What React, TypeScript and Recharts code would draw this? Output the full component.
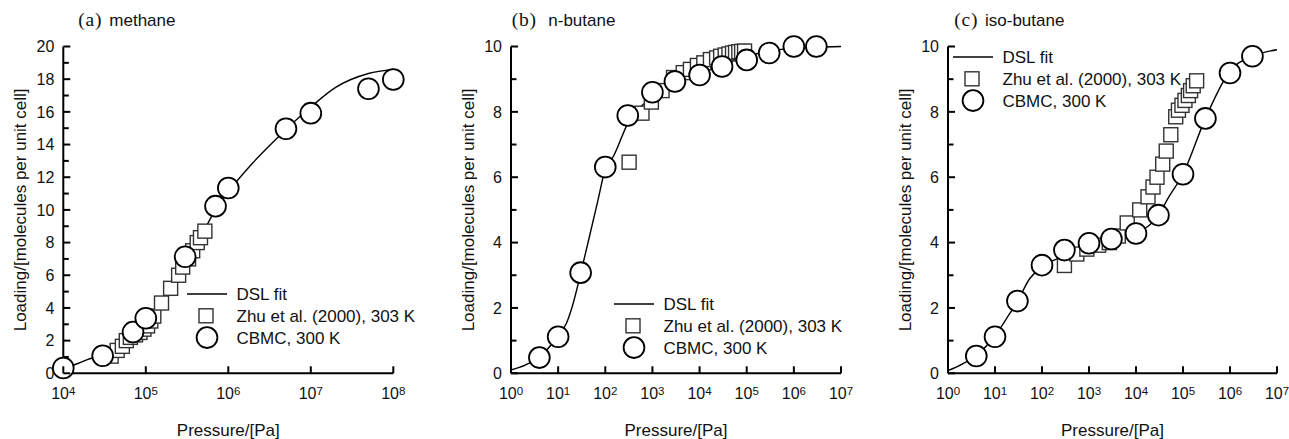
import {
  ComposedChart,
  Line,
  Scatter,
  XAxis,
  YAxis,
  Legend,
  Customized,
} from "recharts";

// (a) methane — pressure [Pa] / loading [molecules per unit cell]
const METHANE_FIT_P = [1e4, 1.5e4, 2e4, 3e4, 5e4, 7e4, 1e5, 1.5e5, 2e5, 3e5, 5e5, 7e5, 1e6, 2e6, 4e6, 1e7, 2e7, 5e7, 1e8];
const METHANE_FIT_Q = [0.3, 0.6, 0.85, 1.15, 1.8, 2.4, 3.2, 4.4, 5.3, 6.9, 8.7, 10.0, 11.1, 12.9, 14.45, 16.3, 17.5, 18.35, 18.6];
const METHANE_ZHU_P = [3.8e4, 4.5e4, 5.2e4, 5.8e4, 6.5e4, 7.5e4, 8.5e4, 9.5e4, 1.05e5, 1.15e5, 1.25e5, 1.55e5, 2.0e5, 2.5e5, 2.8e5, 3.3e5, 3.7e5, 4.2e5, 4.6e5, 5.2e5];
const METHANE_ZHU_Q = [1.05, 1.4, 1.65, 2.0, 2.2, 2.35, 2.5, 2.7, 2.9, 3.2, 3.5, 4.3, 5.2, 6.0, 6.5, 7.0, 7.5, 8.0, 8.3, 8.7];
const METHANE_CBMC_P = [1e4, 3e4, 7e4, 1e5, 3e5, 7e5, 1e6, 5e6, 1e7, 5e7, 1e8];
const METHANE_CBMC_Q = [0.32, 1.07, 2.52, 3.37, 7.13, 10.23, 11.34, 14.97, 15.92, 17.41, 17.98];

// (b) n-butane
const NBUTANE_FIT_P = [1, 2, 4, 10, 15, 20, 30, 50, 70, 100, 150, 300, 1e3, 3e3, 1e4, 3e4, 1e5, 3e5, 1e6, 1e7];
const NBUTANE_FIT_Q = [0.1, 0.25, 0.5, 1.15, 1.53, 2.05, 3.05, 4.4, 5.3, 6.25, 6.65, 7.65, 8.45, 8.9, 9.2, 9.45, 9.7, 9.86, 9.95, 10.0];
const NBUTANE_ZHU_P = [320, 600, 950, 1.6e3, 2.8e3, 4.5e3, 6.4e3, 9e3, 1.23e4, 1.7e4, 2.3e4, 2.8e4, 3.5e4, 4.2e4, 5e4, 5.8e4, 6.8e4, 7.8e4, 9e4];
const NBUTANE_ZHU_Q = [6.46, 7.96, 8.3, 8.65, 9.05, 9.2, 9.3, 9.42, 9.5, 9.6, 9.65, 9.7, 9.74, 9.77, 9.8, 9.82, 9.84, 9.85, 9.86];
const NBUTANE_CBMC_P = [4, 10, 30, 100, 300, 1e3, 3e3, 1e4, 3e4, 1e5, 3e5, 1e6, 3e6];
const NBUTANE_CBMC_Q = [0.48, 1.12, 3.08, 6.31, 7.89, 8.6, 8.93, 9.13, 9.39, 9.59, 9.8, 10.0, 10.0];

// (c) iso-butane
const ISOBUTANE_FIT_P = [1, 2, 4, 10, 20, 30, 55, 100, 300, 1e3, 3e3, 1e4, 2e4, 3e4, 5e4, 1e5, 3e5, 1e6, 3e6, 1e7];
const ISOBUTANE_FIT_Q = [0.08, 0.28, 0.55, 1.15, 1.8, 2.2, 2.9, 3.25, 3.6, 3.88, 4.08, 4.3, 4.55, 4.85, 5.4, 6.1, 7.8, 9.25, 9.7, 9.9];
const ISOBUTANE_ZHU_P = [300, 550, 900, 1.6e3, 2.7e3, 4.2e3, 6.5e3, 1.2e4, 1.8e4, 2.3e4, 2.8e4, 3.7e4, 4.4e4, 5.5e4, 7e4, 8e4, 9.5e4, 1.1e5, 1.3e5, 1.45e5, 1.65e5, 1.95e5];
const ISOBUTANE_ZHU_Q = [3.3, 3.65, 3.8, 3.92, 4.0, 4.2, 4.6, 5.0, 5.4, 5.7, 6.0, 6.4, 6.8, 7.3, 7.85, 8.05, 8.2, 8.35, 8.5, 8.65, 8.8, 8.95];
const ISOBUTANE_CBMC_P = [4, 10, 30, 100, 300, 1e3, 3e3, 1e4, 3e4, 1e5, 3e5, 1e6, 3e6];
const ISOBUTANE_CBMC_Q = [0.53, 1.12, 2.21, 3.31, 3.77, 3.98, 4.11, 4.28, 4.84, 6.09, 7.8, 9.19, 9.7];

// axis ticks
const METHANE_X_TICKS = [1e4, 1e5, 1e6, 1e7, 1e8];
const BUTANE_X_TICKS = [1, 10, 100, 1e3, 1e4, 1e5, 1e6, 1e7];
const METHANE_Y_TICKS = [0, 1, 2, 3, 4, 5, 6, 7, 8, 9, 10, 11, 12, 13, 14, 15, 16, 17, 18, 19, 20];
const BUTANE_Y_TICKS = [0, 1, 2, 3, 4, 5, 6, 7, 8, 9, 10];

const SERIES_NAMES = ["DSL fit", "Zhu et al. (2000), 303 K", "CBMC, 300 K"];
const MARK_ORDER = ["line", "square", "circle"];

const SANS = "'Liberation Sans', Arial, Helvetica, sans-serif";
const SERIF = "'Liberation Serif', 'Times New Roman', serif";
const INK = "#111";

type Pt = { P: number; L: number };
const zip = (ps: number[], qs: number[]): Pt[] => ps.map((P, i) => ({ P, L: qs[i] }));

const XTick = ({ x, y, payload }: any) => {
  const exp = Math.round(Math.log10(payload.value));
  return (
    <g>
      <line x1={x} x2={x} y1={y} y2={y - 7} stroke="#000" strokeWidth={2} />
      <text x={x} y={y + 26} textAnchor="middle" fontSize={16} fill={INK}>
        10
        <tspan dy={-4.5} fontSize={11.5}>
          {exp}
        </tspan>
      </text>
    </g>
  );
};

const YTick = ({ x, y, payload }: any) => {
  const major = payload.value % 2 === 0;
  return (
    <g>
      <line x1={x} x2={x + (major ? 7 : 5.5)} y1={y} y2={y} stroke="#000" strokeWidth={2} />
      {major && (
        <text x={x - 9} y={y} dy="0.36em" textAnchor="end" fontSize={16} fill={INK}>
          {payload.value}
        </text>
      )}
    </g>
  );
};

const XTitle = ({ viewBox }: any) => {
  if (!viewBox) return null;
  return (
    <text x={viewBox.x + viewBox.width / 2} y={viewBox.y + 62.7} textAnchor="middle" fontSize={17} fill={INK}>
      Pressure/[Pa]
    </text>
  );
};

const YTitle = ({ viewBox }: any) => {
  if (!viewBox) return null;
  const cx = viewBox.x + viewBox.width - 37;
  const cy = viewBox.y + viewBox.height / 2;
  return (
    <text x={cx} y={cy} transform={`rotate(-90 ${cx} ${cy})`} textAnchor="middle" fontSize={17} fill={INK}>
      Loading/[molecules per unit cell]
    </text>
  );
};

const SquareDot = ({ cx, cy }: any) => (
  <rect x={cx - 7} y={cy - 7} width={14} height={14} fill="#fff" stroke="#333" strokeWidth={1.4} />
);

const CircleDot = ({ cx, cy }: any) => (
  <circle cx={cx} cy={cy} r={10.4} fill="#fff" stroke="#000" strokeWidth={1.8} />
);

const LegendBox = ({ payload }: any) => {
  const items = [...(payload || [])].sort(
    (a: any, b: any) => MARK_ORDER.indexOf(a.type) - MARK_ORDER.indexOf(b.type)
  );
  return (
    <svg width={240} height={70} style={{ overflow: "visible", display: "block" }}>
      {items.map((it: any, i: number) => {
        const cy = 11 + i * 21.8;
        return (
          <g key={it.value}>
            {it.type === "line" && <line x1={0} x2={40} y1={cy} y2={cy} stroke="#000" strokeWidth={1.4} />}
            {it.type === "square" && <SquareDot cx={19} cy={cy} />}
            {it.type === "circle" && <CircleDot cx={20} cy={cy} />}
            <text x={49.5} y={cy} dy="0.36em" fontSize={17} fill={INK} fontFamily={SANS}>
              {it.value}
            </text>
          </g>
        );
      })}
    </svg>
  );
};

interface PanelProps {
  left: number;
  width: number;
  yAxisWidth: number;
  rightMargin: number;
  xDomain: [number, number];
  xTicks: number[];
  yTicks: number[];
  fit: Pt[];
  zhu: Pt[];
  cbmc: Pt[];
  tag: string;
  tagX: number;
  name: string;
  nameX: number;
  legendLeft: number;
  legendTop: number;
}

const Panel = (p: PanelProps) => (
  <div style={{ position: "absolute", left: p.left, top: 0 }}>
    <ComposedChart
      width={p.width}
      height={439}
      margin={{ top: 46.5, right: p.rightMargin, bottom: 0, left: 0 }}
    >
      <XAxis
        dataKey="P"
        type="number"
        scale="log"
        domain={p.xDomain}
        ticks={p.xTicks}
        interval={0}
        height={65.7}
        tickSize={0}
        tickMargin={0}
        tickLine={false}
        axisLine={{ stroke: "#000", strokeWidth: 2 }}
        tick={<XTick />}
        label={<XTitle />}
      />
      <YAxis
        dataKey="L"
        type="number"
        domain={[p.yTicks[0], p.yTicks[p.yTicks.length - 1]]}
        ticks={p.yTicks}
        interval={0}
        width={p.yAxisWidth}
        tickSize={0}
        tickMargin={0}
        tickLine={false}
        axisLine={{ stroke: "#000", strokeWidth: 2 }}
        tick={<YTick />}
        label={<YTitle />}
      />
      <Legend
        layout="vertical"
        align="center"
        verticalAlign="middle"
        content={<LegendBox />}
        wrapperStyle={{ left: p.legendLeft, top: p.legendTop, width: 240, height: 70 }}
      />
      <Line
        data={p.fit}
        dataKey="L"
        name={SERIES_NAMES[0]}
        type="monotone"
        stroke="#000"
        strokeWidth={1.4}
        dot={false}
        activeDot={false}
        legendType="line"
        isAnimationActive={false}
      />
      <Scatter
        data={p.zhu}
        dataKey="L"
        name={SERIES_NAMES[1]}
        shape={<SquareDot />}
        legendType="square"
        isAnimationActive={false}
      />
      <Scatter
        data={p.cbmc}
        dataKey="L"
        name={SERIES_NAMES[2]}
        shape={<CircleDot />}
        legendType="circle"
        isAnimationActive={false}
      />
      <Customized
        component={() => (
          <g>
            <text x={p.tagX} y={26} fontFamily={SERIF} fontSize={19.5} letterSpacing={0.8} fill={INK}>
              {p.tag}
            </text>
            <text x={p.nameX} y={26} fontSize={17} fill={INK}>
              {p.name}
            </text>
          </g>
        )}
      />
    </ComposedChart>
  </div>
);

export default function App() {
  return (
    <div
      style={{
        position: "relative",
        width: 1289,
        height: 439,
        background: "#fff",
        fontFamily: SANS,
        overflow: "hidden",
      }}
    >
      <style>{"body{margin:0}"}</style>
      <Panel
        left={0}
        width={430}
        yAxisWidth={63.3}
        rightMargin={36.7}
        xDomain={[1e4, 1e8]}
        xTicks={METHANE_X_TICKS}
        yTicks={METHANE_Y_TICKS}
        fit={zip(METHANE_FIT_P, METHANE_FIT_Q)}
        zhu={zip(METHANE_ZHU_P, METHANE_ZHU_Q)}
        cbmc={zip(METHANE_CBMC_P, METHANE_CBMC_Q)}
        tag="(a)"
        tagX={78.3}
        name="methane"
        nameX={109.3}
        legendLeft={186.7}
        legendTop={282.5}
      />
      <Panel
        left={430}
        width={430}
        yAxisWidth={81}
        rightMargin={19}
        xDomain={[1, 1e7]}
        xTicks={BUTANE_X_TICKS}
        yTicks={BUTANE_Y_TICKS}
        fit={zip(NBUTANE_FIT_P, NBUTANE_FIT_Q)}
        zhu={zip(NBUTANE_ZHU_P, NBUTANE_ZHU_Q)}
        cbmc={zip(NBUTANE_CBMC_P, NBUTANE_CBMC_Q)}
        tag="(b)"
        tagX={81.7}
        name="n-butane"
        nameX={118.3}
        legendLeft={184.3}
        legendTop={293.3}
      />
      <Panel
        left={860}
        width={429}
        yAxisWidth={88}
        rightMargin={12}
        xDomain={[1, 1e7]}
        xTicks={BUTANE_X_TICKS}
        yTicks={BUTANE_Y_TICKS}
        fit={zip(ISOBUTANE_FIT_P, ISOBUTANE_FIT_Q)}
        zhu={zip(ISOBUTANE_ZHU_P, ISOBUTANE_ZHU_Q)}
        cbmc={zip(ISOBUTANE_CBMC_P, ISOBUTANE_CBMC_Q)}
        tag="(c)"
        tagX={94.3}
        name="iso-butane"
        nameX={125}
        legendLeft={93.3}
        legendTop={46}
      />
    </div>
  );
}
